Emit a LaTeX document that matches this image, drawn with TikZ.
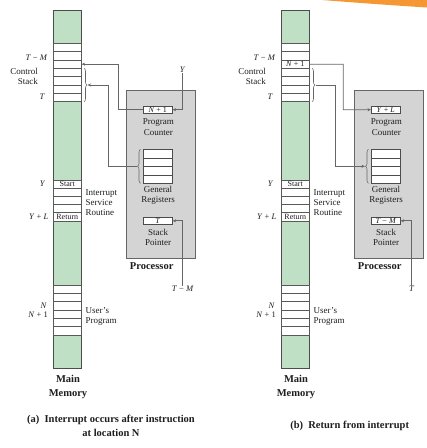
\documentclass[tikz,border=0pt]{standalone}
\usepackage{fontspec}
\setmainfont{Liberation Serif}
\usetikzlibrary{decorations.pathreplacing,arrows.meta}
\definecolor{memgreen}{RGB}{192,224,197}
\definecolor{procgray}{RGB}{212,212,212}
\definecolor{swoosh}{RGB}{245,152,52}
\definecolor{txt}{RGB}{30,30,30}
\tikzset{
  memcol/.style={draw=black!70,fill=memgreen,line width=0.7pt},
  cell/.style={draw=black!65,fill=white,minimum width=28pt,minimum height=8.33pt,inner sep=0pt,line width=0.6pt,font=\fontsize{8}{8}\selectfont,text=txt},
  reg/.style={draw=black!70,fill=white,minimum width=29pt,minimum height=7.3pt,inner sep=0pt,line width=0.6pt,font=\fontsize{8}{8}\selectfont,text=txt},
  lbl/.style={font=\fontsize{9}{10.3}\selectfont,text=txt,inner sep=0pt},
  mlbl/.style={font=\fontsize{8.5}{9}\selectfont,text=txt,inner sep=0pt},
  blbl/.style={font=\fontsize{10.5}{13.5}\selectfont\bfseries,text=txt,inner sep=0pt},
  proc/.style={draw=black!60,fill=procgray,line width=0.7pt},
  conn/.style={draw=black!60,line width=0.8pt,-{Stealth[length=3.5pt,width=3pt]}},
  brc/.style={draw=black!60,line width=0.6pt,decorate,decoration={brace,amplitude=3pt}},
}
\newcommand\memcolumn[1]{%
  \draw[memcol] (53.3,10) rectangle (81.3,368.3);
  \foreach \i in {1,...,7} \node[cell] (s#1\i) at (67.3,{43.3+8.34*(\i-0.5)}) {};
  \foreach \i in {1,...,5} \node[cell] (i#1\i) at (67.3,{180+8.2*(\i-0.5)}) {};
  \foreach \i in {1,...,6} \node[cell] (u#1\i) at (67.3,{285+8.33*(\i-0.5)}) {};
  \node[cell] at (i#11) {Start};
  \node[cell] at (i#15) {Return};
  \draw[brc] (84,68.3) -- (84,101.7);
  \coordinate (sb#1) at (87.5,85);
  \node[mlbl,anchor=east] (tm#1) at (47.5,57.3) {\textit{T} − \textit{M}};
  \node[lbl,anchor=east,align=right] (cs#1) at (38,76.7) {Control\\Stack};
  \node[mlbl,anchor=east] (t#1) at (45,97) {\textit{T}};
  \node[mlbl,anchor=east] (y#1) at (45.5,184) {\textit{Y}};
  \node[mlbl,anchor=east] (yl#1) at (48.5,217) {\textit{Y} + \textit{L}};
  \node[mlbl,anchor=east] (n#1) at (47,305.5) {\textit{N}};
  \node[mlbl,anchor=east] (n1#1) at (48,314.5) {\textit{N} + 1};
  \node[lbl,anchor=west,align=left] (isr#1) at (85.5,202.6) {Interrupt\\Service\\Routine};
  \node[lbl,anchor=west,align=left] (up#1) at (85.5,316.3) {User's\\Program};
  \node[blbl,align=center] (mm#1) at (68,387) {Main\\Memory};
  % processor
  \draw[proc] (126,90) rectangle (195,258.3);
  \foreach \i in {1,...,4} \node[reg,minimum height=8.5pt] (r#1\i) at (157.8,{149.3+8.5*(\i-0.5)}) {};
  \draw[brc] (140.5,183.3) -- (140.5,149.3);
  \coordinate (rb#1) at (137,166.3);
  \node[lbl,align=center] (pcl#1) at (158.3,127) {Program\\Counter};
  \node[lbl,align=center] (grl#1) at (158,195.5) {General\\Registers};
  \node[lbl,align=center] (spl#1) at (158,237.3) {Stack\\Pointer};
  \node[blbl] (pr#1) at (151.7,266) {Processor};
}
\begin{document}
\begin{tikzpicture}[x=1pt,y=-1pt]
\useasboundingbox (0,0) rectangle (427,448);
\fill[swoosh] (322,0) .. controls (360,3) and (395,5.5) .. (427,7.5) -- (427,0) -- cycle;
% ---------------- panel (a)
\memcolumn{a}
\node[reg] (pca) at (157.8,109.7) {\textit{N} + 1};
\node[reg] (spa) at (157.8,220.8) {\textit{T}};
\node[mlbl] (ya) at (182.7,70) {\textit{Y}};
\node[mlbl] (tmpa) at (182.7,289) {\textit{T} − \textit{M}};
\draw[conn] (ya.south) |- (pca.east);
\draw[conn] (pca.west) -- (118.3,109.7) |- (sa3.east);
\draw[conn] (rba) -- (108.3,166.3) |- (sba);
\draw[conn] (tmpa.north) |- (spa.east);
\node[blbl,align=center] (capa) at (111,426) {(a)\ \ Interrupt occurs after instruction\\at location N};
% ---------------- panel (b)
\begin{scope}[xshift=228pt]
\memcolumn{b}
\node[cell] at (sb3) {\textit{N} + 1};
\node[reg] (pcb) at (157.8,109.7) {\textit{Y} + \textit{L}};
\node[reg] (spb) at (157.8,220.8) {\textit{T} − \textit{M}};
\node[mlbl] (tpb) at (183.7,289) {\textit{T}};
\draw[conn] (sb3.east) -- (115.3,64.3) |- (pcb.west);
\draw[conn] (sbb) -- (107,85) |- (rbb);
\draw[conn] (tpb.north) |- (spb.east);
\node[blbl] (capb) at (121.7,426) {(b)\ \ Return from interrupt};
\end{scope}
\end{tikzpicture}
\end{document}
